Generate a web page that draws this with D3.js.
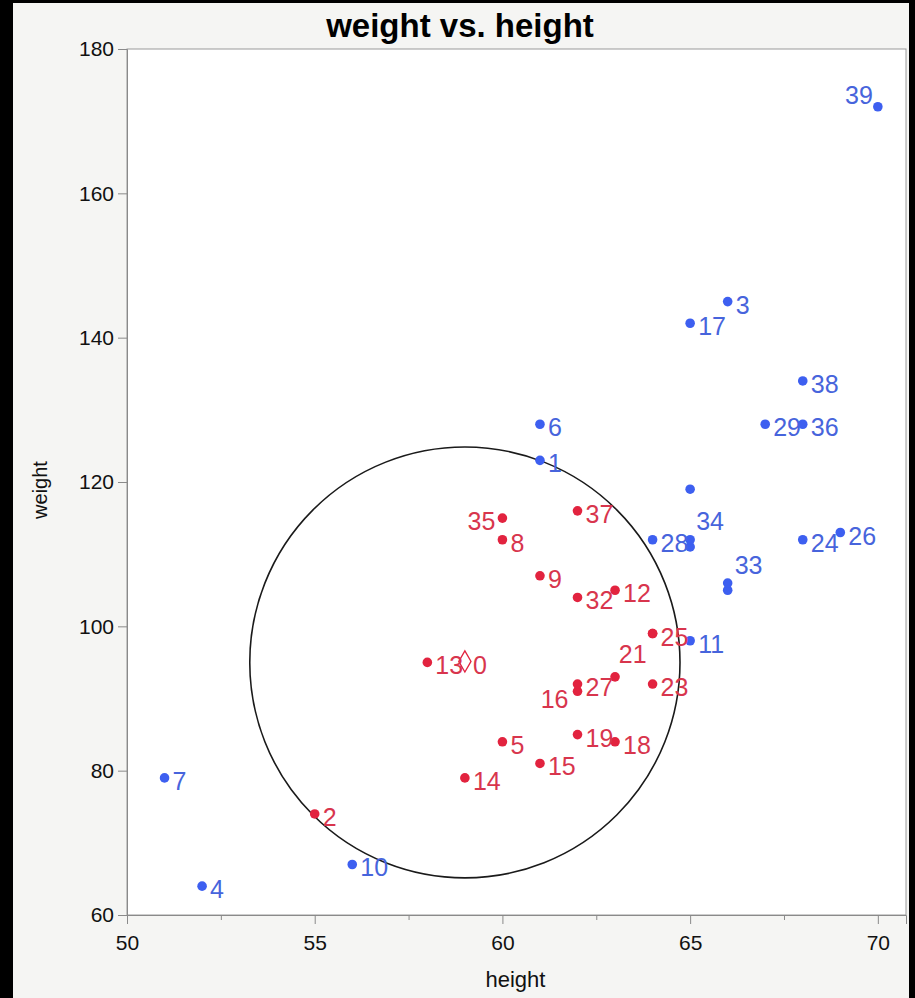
<!DOCTYPE html>
<html>
<head>
<meta charset="utf-8">
<script src="https://cdn.jsdelivr.net/npm/d3@7"></script>
<style>
  html, body { margin: 0; padding: 0; background: #000; }
  svg { display: block; }
  text { font-family: "Liberation Sans", Arial, Helvetica, sans-serif; }
</style>
</head>
<body>
<div id="chart"></div>
<script>
// ---- data (row index label, height, weight) ----
const labels  = [0,1,2,3,4,5,6,7,8,9,10,11,12,13,14,15,16,17,18,19,20,21,22,23,24,25,26,27,28,29,30,31,32,33,34,35,36,37,38,39];
const heights = [59,61,55,66,52,60,61,51,60,61,56,65,63,58,59,61,62,65,63,62,63,64,65,64,68,64,69,62,64,67,65,66,62,66,65,60,68,62,68,70];
const weights = [95,123,74,145,64,84,128,79,112,107,67,98,105,95,79,81,91,142,84,85,93,99,119,92,112,99,113,92,112,128,111,105,104,106,112,115,128,116,134,172];
// group: "q" = query point, "n" = neighbour (inside circle), "o" = other
const groups  = ["q","o","n","o","o","n","o","o","n","n","o","o","n","n","n","n","n","o","n","n","n","n","o","n","o","n","o","n","o","o","o","o","n","o","o","n","o","n","o","o"];
// labels not drawn (hidden by overlap in the original)
const hiddenLabels = [20,22,30,31];
// neighbourhood circle: centre (height, weight) and radii in data units
const circleCenter = [59, 95];
const circleRadius = [5.73, 29.85];

const xTicks = [50,55,60,65,70];
const xMinorTicks = [52.5,57.5,62.5,67.5];
const yTicks = [60,80,100,120,140,160,180];

const title = "weight vs. height";
const xTitle = "height";
const yTitle = "weight";

// label nudges: [anchor, dx, dy] relative to the point
const labelNudge = {
  16: ["end", -9, 17],
  21: ["end", -6, 29],
  33: ["start", 7, -9],
  34: ["start", 6, -10],
  35: ["end", -7, 12],
  39: ["end", -5, -3]
};

// ---- layout ----
const W = 915, H = 998;
const plot = {left: 127, right: 906, top: 49, bottom: 915};
const colors = {n: "#e2233f", o: "#3d5ff0", q: "#e2233f"};
const textColors = {n: "#d8354d", o: "#4764dc", q: "#d8354d"};

const svg = d3.select("#chart").append("svg").attr("width", W).attr("height", H);

// outer black with light panel
svg.append("rect").attr("x", 0).attr("y", 0).attr("width", W).attr("height", H).attr("fill", "#000");
svg.append("rect").attr("x", 13).attr("y", 3).attr("width", 896).attr("height", H - 3).attr("fill", "#f5f5f3");

const x = d3.scaleLinear().domain([50, 70.75]).range([plot.left, plot.right]);
const y = d3.scaleLinear().domain([60, 180]).range([plot.bottom, plot.top]);

// plot area
svg.append("rect")
  .attr("x", plot.left).attr("y", plot.top)
  .attr("width", plot.right - plot.left).attr("height", plot.bottom - plot.top)
  .attr("fill", "#fff").attr("stroke", "#9a9a9a").attr("stroke-width", 1);

// title
svg.append("text")
  .attr("x", 460).attr("y", 37)
  .attr("text-anchor", "middle")
  .attr("font-size", 33).attr("font-weight", "bold").attr("fill", "#000")
  .text(title);

// axes
const xAxis = d3.axisBottom(x).tickValues(xTicks).tickSize(9).tickPadding(11).tickFormat(d3.format("d"));
const gx = svg.append("g").attr("transform", `translate(0,${plot.bottom})`).call(xAxis);
gx.select(".domain").attr("stroke", "#8a8a8a");
gx.selectAll(".tick line").attr("stroke", "#8a8a8a");
gx.selectAll(".tick text").attr("font-size", 21).attr("fill", "#111")
  .style("font-family", '"Liberation Sans", Arial, sans-serif');

const gxm = svg.append("g").attr("transform", `translate(0,${plot.bottom})`)
  .call(d3.axisBottom(x).tickValues(xMinorTicks).tickSize(5).tickFormat(""));
gxm.select(".domain").remove();
gxm.selectAll(".tick line").attr("stroke", "#8a8a8a");

const yAxis = d3.axisLeft(y).tickValues(yTicks).tickSize(9).tickPadding(4).tickFormat(d3.format("d"));
const gy = svg.append("g").attr("transform", `translate(${plot.left},0)`).call(yAxis);
gy.select(".domain").attr("stroke", "#8a8a8a");
gy.selectAll(".tick line").attr("stroke", "#8a8a8a");
gy.selectAll(".tick text").attr("font-size", 21).attr("fill", "#111")
  .style("font-family", '"Liberation Sans", Arial, sans-serif');

// axis titles
svg.append("text")
  .attr("x", (plot.left + plot.right) / 2 - 1).attr("y", 987)
  .attr("text-anchor", "middle").attr("font-size", 22).attr("fill", "#111")
  .text(xTitle);
svg.append("text")
  .attr("transform", `translate(47,${(plot.top + plot.bottom) / 2 + 8}) rotate(-90)`)
  .attr("text-anchor", "middle").attr("font-size", 20).attr("fill", "#111")
  .text(yTitle);

// neighbourhood circle
svg.append("ellipse")
  .attr("cx", x(circleCenter[0])).attr("cy", y(circleCenter[1]))
  .attr("rx", x(circleCenter[0] + circleRadius[0]) - x(circleCenter[0]))
  .attr("ry", y(circleCenter[1] - circleRadius[1]) - y(circleCenter[1]))
  .attr("fill", "none").attr("stroke", "#1a1a1a").attr("stroke-width", 1.6);

const data = labels.map((l, i) => ({label: l, h: heights[i], w: weights[i], g: groups[i]}));

// points
const pts = svg.append("g");
pts.selectAll("circle").data(data.filter(d => d.g !== "q")).join("circle")
  .attr("cx", d => x(d.h)).attr("cy", d => y(d.w)).attr("r", 4.8)
  .attr("fill", d => colors[d.g]);

const diamond = d3.symbol().type(d3.symbolDiamond).size(130);
pts.selectAll("path").data(data.filter(d => d.g === "q")).join("path")
  .attr("d", diamond)
  .attr("transform", d => `translate(${x(d.h)},${y(d.w) - 1})`)
  .attr("fill", "none").attr("stroke", colors.q).attr("stroke-width", 1.3);

// labels
svg.append("g").selectAll("text")
  .data(data.filter(d => !hiddenLabels.includes(d.label)))
  .join("text")
  .attr("x", d => x(d.h) + (labelNudge[d.label] ? labelNudge[d.label][1] : 8))
  .attr("y", d => y(d.w) + (labelNudge[d.label] ? labelNudge[d.label][2] : 12))
  .attr("text-anchor", d => labelNudge[d.label] ? labelNudge[d.label][0] : "start")
  .attr("font-size", 25)
  .attr("fill", d => textColors[d.g])
  .text(d => d.label);
</script>
</body>
</html>
